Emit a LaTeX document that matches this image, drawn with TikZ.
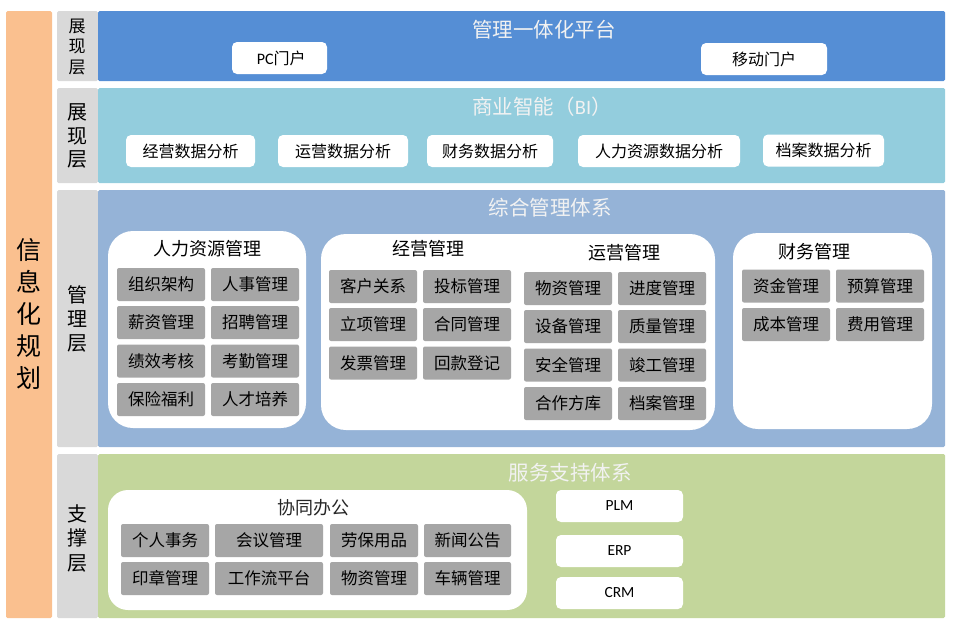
\documentclass[tikz,border=0pt]{standalone}
\usepackage{fontspec}
\setmainfont{Noto Sans CJK SC}
\newfontfamily\lat{Carlito}
\definecolor{peach}{HTML}{FAC08F}
\definecolor{labgray}{HTML}{D9D9D9}
\definecolor{boxgray}{HTML}{A6A6A6}
\definecolor{bandblue}{HTML}{558ED5}
\definecolor{bandaqua}{HTML}{93CDDD}
\definecolor{bandmgmt}{HTML}{95B3D7}
\definecolor{bandgreen}{HTML}{C3D69B}
\definecolor{titlewhite}{HTML}{F2F2F2}
\newcommand{\fs}[1]{\fontsize{#1}{#1}\selectfont}
\tikzset{
  gbox/.style={fill=boxgray, rounded corners=2pt, inner sep=0pt, minimum height=33, minimum width=88, font=\fs{16.5}},
  wbox/.style={fill=white, rounded corners=5pt, inner sep=0pt, minimum height=32, font=\fs{16}},
  cont/.style={fill=white, rounded corners=25pt},
  bandtitle/.style={text=titlewhite, inner sep=0pt, font=\fs{20.5}},
  conttitle/.style={inner sep=0pt, font=\fs{18}},
  vlabel/.style={inner sep=0pt, align=center},
}
\begin{document}
\begin{tikzpicture}[x=1pt,y=-1pt]
\useasboundingbox (0,0) rectangle (958,625);
% left bar
\fill[peach, rounded corners=1.5pt] (6,11) rectangle (52,618);
\node[vlabel, font=\fontsize{25}{32}\selectfont] (main) at (29,314) {信\\息\\化\\规\\划};
% label columns
\fill[labgray, rounded corners=1.5pt] (57,11) rectangle (98,81);
\fill[labgray, rounded corners=1.5pt] (57,88) rectangle (98,183);
\fill[labgray, rounded corners=1.5pt] (57,190) rectangle (98,447);
\fill[labgray, rounded corners=1.5pt] (57,454) rectangle (98,618);
\node[vlabel, font=\fontsize{17}{20.5}\selectfont] (l1) at (77,47) {展\\现\\层};
\node[vlabel, font=\fontsize{20}{23.5}\selectfont] (l2) at (77,136) {展\\现\\层};
\node[vlabel, font=\fontsize{20}{24}\selectfont] (l3) at (77,319) {管\\理\\层};
\node[vlabel, font=\fontsize{20}{24.5}\selectfont] (l4) at (77,538) {支\\撑\\层};
% bands
\fill[bandblue, rounded corners=1.5pt] (98,11) rectangle (945,81);
\fill[bandaqua, rounded corners=1.5pt] (98,88) rectangle (945,183);
\fill[bandmgmt, rounded corners=1.5pt] (98,190) rectangle (945,447);
\fill[bandgreen, rounded corners=1.5pt] (98,454) rectangle (945,618);
\node[bandtitle] (t1) at (544,30) {管理一体化平台};
\node[bandtitle] (t2) at (542,107) {商业智能（{\lat BI}）};
\node[bandtitle] (t3) at (550,208) {综合管理体系};
\node[bandtitle] (t4) at (570,473) {服务支持体系};
% row 1
\node[wbox, minimum width=95] (pc) at (279.5,58) {{\lat\fs{16} PC}门户};
\node[wbox, minimum width=126] (mob) at (764,59) {移动门户};
% row 2
\node[wbox, minimum width=129] (bi1) at (190.5,151) {经营数据分析};
\node[wbox, minimum width=130] (bi2) at (343,151) {运营数据分析};
\node[wbox, minimum width=126] (bi3) at (490,151) {财务数据分析};
\node[wbox, minimum width=162] (bi4) at (659,151) {人力资源数据分析};
\node[wbox, minimum width=121] (bi5) at (823.5,150.5) {档案数据分析};
% containers
\fill[cont] (108,231) rectangle (306,428);
\fill[cont] (321,234) rectangle (715,430);
\fill[cont] (733,233) rectangle (932,429);
\fill[cont, rounded corners=20pt] (108,490) rectangle (527,610);
\node[conttitle] (hrt) at (207,249) {人力资源管理};
\node[conttitle] (jyt) at (428,249) {经营管理};
\node[conttitle] (yyt) at (624,253) {运营管理};
\node[conttitle] (cwt) at (814,252) {财务管理};
\node[conttitle, text=black!85] (xtt) at (313,508) {协同办公};
% HR
\node[gbox] (hr1) at (161,284.5) {组织架构};
\node[gbox] (hr2) at (255,284.5) {人事管理};
\node[gbox] (hr3) at (161,322.5) {薪资管理};
\node[gbox] (hr4) at (255,322.5) {招聘管理};
\node[gbox] (hr5) at (161,361) {绩效考核};
\node[gbox] (hr6) at (255,361) {考勤管理};
\node[gbox] (hr7) at (161,399.5) {保险福利};
\node[gbox] (hr8) at (255,399.5) {人才培养};
% business
\node[gbox] (jy1) at (373,286.5) {客户关系};
\node[gbox] (jy2) at (467,286.5) {投标管理};
\node[gbox] (jy3) at (373,324.5) {立项管理};
\node[gbox] (jy4) at (467,324.5) {合同管理};
\node[gbox] (jy5) at (373,363) {发票管理};
\node[gbox] (jy6) at (467,363) {回款登记};
% operations
\node[gbox] (yy1) at (568,288.5) {物资管理};
\node[gbox] (yy2) at (662,288.5) {进度管理};
\node[gbox] (yy3) at (568,326.5) {设备管理};
\node[gbox] (yy4) at (662,326.5) {质量管理};
\node[gbox] (yy5) at (568,365) {安全管理};
\node[gbox] (yy6) at (662,365) {竣工管理};
\node[gbox] (yy7) at (568,403.5) {合作方库};
\node[gbox] (yy8) at (662,403.5) {档案管理};
% finance
\node[gbox] (cw1) at (786,286) {资金管理};
\node[gbox] (cw2) at (880,286) {预算管理};
\node[gbox] (cw3) at (786,324.5) {成本管理};
\node[gbox] (cw4) at (880,324.5) {费用管理};
% collaboration
\node[gbox] (xt1) at (165,540.5) {个人事务};
\node[gbox, minimum width=108] (xt2) at (269,540.5) {会议管理};
\node[gbox] (xt3) at (374,540.5) {劳保用品};
\node[gbox, minimum width=87] (xt4) at (467.5,540.5) {新闻公告};
\node[gbox] (xt5) at (165,578.5) {印章管理};
\node[gbox, minimum width=108] (xt6) at (269,578.5) {工作流平台};
\node[gbox] (xt7) at (374,578.5) {物资管理};
\node[gbox, minimum width=87] (xt8) at (467.5,578.5) {车辆管理};
% systems
\node[wbox, minimum width=127, font=\lat\fs{15.5}] (plm) at (619.5,506) {PLM};
\node[wbox, minimum width=127, font=\lat\fs{15.5}] (erp) at (619.5,551) {ERP};
\node[wbox, minimum width=127, font=\lat\fs{15.5}] (crm) at (619.5,593) {CRM};
\end{tikzpicture}
\end{document}
